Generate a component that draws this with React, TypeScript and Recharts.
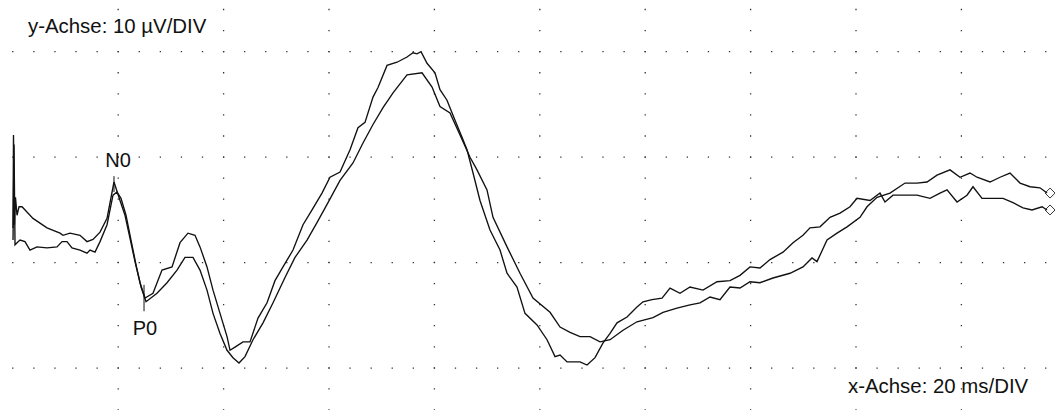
import { LineChart, Line, XAxis, YAxis, CartesianGrid, ReferenceLine, ReferenceDot } from "recharts";

// trace 1 (higher at the start, higher main peak)
const traceOneMs = [
  0.04, 0.13, 0.32, 0.51, 0.8, 1.18, 1.75, 3.83, 6.49, 8.96,
  9.53, 10.85, 12.75, 14.08, 15.22, 16.55, 17.88, 19.2, 20.34, 21.29,
  22.24, 23.19, 24.14, 25.09, 26.6, 28.31, 30.21, 31.73, 33.24, 34.57,
  35.52, 36.85, 37.99, 39.32, 40.65, 41.22, 42.16, 43.68, 45.01, 46.53,
  48.24, 49.75, 51.27, 53.17, 55.07, 56.78, 58.67, 60.19, 62.09, 63.99,
  65.5, 66.83, 68.35, 69.3, 71.01, 72.91, 74.8, 75.94, 76.7, 77.46,
  78.6, 80.11, 81.06, 82.39, 83.91, 85.24, 86.19, 87.33, 88.65, 90.55,
  92.45, 93.78, 95.67, 97.19, 99.47, 101.37, 102.89, 103.84, 105.17, 107.63,
  108.96, 110.48, 112.0, 113.33, 114.65, 116.55, 118.44, 119.58, 121.29, 123.19,
  124.71, 126.6, 128.5, 130.97, 133.63, 136.09, 137.99, 139.89, 141.78, 143.68,
  146.15, 148.05, 149.94, 151.27, 153.17, 155.07, 156.97, 158.86, 160.19, 162.66,
  164.55, 165.5, 167.02, 168.92, 171.57, 174.04, 175.94, 177.27, 179.17, 181.06,
  182.2, 183.91, 185.43, 187.9, 189.79, 191.69, 193.4, 195.3, 196.25,
];
const traceOneUv = [
  3.3, 12.1, 3.6, 6.2, 4.5, 5.3, 5.3, 4.2, 3.3, 2.8,
  2.6, 2.8, 2.6, 2.0, 2.2, 2.9, 4.2, 7.65, 5.9, 4.5,
  2.3, 0.1, -1.9, -3.35, -2.9, -0.7, -0.4, 1.9, 2.8, 2.6,
  1.5, -0.4, -2.6, -4.8, -7.0, -8.3, -8.0, -7.5, -7.5, -5.25,
  -3.8, -1.7, -0.4, 1.2, 3.6, 5.0, 6.6, 8.1, 8.6, 10.7,
  12.8, 13.3, 15.7, 16.6, 18.7, 19.0, 19.5, 19.9, 19.8, 20.0,
  18.9, 18.0, 16.4, 15.4, 13.5, 11.9, 10.7, 8.5, 5.9, 3.1,
  1.2, -1.0, -2.3, -4.8, -5.9, -7.3, -8.9, -8.75, -9.4, -9.4,
  -9.7, -9.0, -7.6, -6.7, -5.7, -5.15, -4.2, -3.7, -3.5, -3.35,
  -2.4, -2.9, -2.3, -2.6, -1.8, -1.7, -1.2, -0.4, -0.5, 0.3,
  1.0, 1.9, 2.6, 3.3, 3.4, 4.3, 4.7, 5.3, 6.1, 5.9,
  6.6, 5.75, 6.4, 6.4, 6.4, 6.1, 6.6, 6.9, 5.75, 6.4,
  7.2, 6.1, 6.1, 6.1, 5.7, 5.2, 5.0, 5.3, 5.0,
];

// trace 2
const traceTwoMs = [
  0.04, 0.23, 0.42, 0.8, 1.37, 2.31, 3.26, 4.59, 6.49, 8.39,
  9.34, 10.28, 11.23, 12.75, 14.08, 14.65, 15.6, 16.55, 17.88, 19.01,
  19.77, 20.53, 21.48, 22.43, 23.38, 24.33, 25.28, 27.36, 29.26, 31.16,
  32.67, 34.19, 35.52, 36.85, 37.99, 39.32, 40.65, 41.78, 42.92, 44.06,
  45.58, 47.48, 49.38, 51.65, 53.55, 55.83, 57.72, 59.81, 62.09, 64.55,
  66.45, 68.35, 70.25, 72.15, 74.8, 77.65, 79.55, 81.06, 82.96, 84.86,
  86.76, 88.08, 89.98, 91.12, 93.78, 96.24, 98.71, 101.94, 103.84, 105.74,
  107.63, 109.53, 111.43, 113.33, 115.79, 118.44, 121.48, 123.38, 126.03, 128.5,
  130.4, 132.3, 134.19, 136.09, 137.99, 139.89, 141.78, 144.25, 147.48, 149.94,
  151.65, 152.6, 154.5, 156.4, 158.3, 160.76, 162.09, 163.99, 166.45, 169.3,
  171.57, 173.47, 175.37, 177.84, 179.74, 181.63, 182.96, 185.43, 187.33, 189.22,
  191.12, 193.02, 194.91, 196.25,
];
const traceTwoUv = [
  2.15, 11.2, 1.7, 1.9, 2.15, 2.0, 1.2, 1.5, 1.4, 1.5,
  2.0, 2.0, 1.4, 1.2, 0.9, 1.2, 1.0, 2.0, 3.6, 6.4,
  6.7, 6.1, 4.5, 2.15, -0.2, -2.3, -3.7, -2.9, -1.9, -0.7,
  0.5, 0.5, -0.7, -2.6, -4.8, -6.7, -8.3, -9.0, -9.5, -8.9,
  -7.3, -5.7, -3.8, -1.4, 0.5, 2.15, 3.8, 5.7, 7.8, 9.45,
  11.35, 13.1, 14.7, 16.1, 17.8, 18.0, 16.65, 14.8, 14.2, 12.1,
  10.0, 8.8, 6.9, 4.3, 1.5, -1.0, -3.35, -4.7, -6.1, -6.6,
  -7.0, -7.0, -7.5, -7.3, -6.4, -5.6, -5.2, -4.7, -4.3, -4.0,
  -3.8, -3.25, -3.5, -2.3, -2.4, -1.8, -1.9, -1.45, -1.0, -0.4,
  0.45, 0.1, 2.15, 2.8, 3.4, 4.3, 5.3, 6.2, 6.6, 7.55,
  7.55, 7.65, 8.3, 8.8, 8.1, 8.5, 8.1, 7.65, 8.1, 8.5,
  7.55, 7.2, 7.1, 6.6,
];

// divisions: 20 ms / 10 µV
const gridMs = [0, 20, 40, 60, 80, 100, 120, 140, 160, 180];
const gridUv = [-10, 0, 10, 20];

// N0 / P0 marks: [ms, top µV, bottom µV]
const n0Mark = [19.2, 8.2, 6.7];
const p0Mark = [24.9, -2.1, -4.6];

const traceOne = traceOneMs.map((t, i) => ({ t, v: traceOneUv[i] }));
const traceTwo = traceTwoMs.map((t, i) => ({ t, v: traceTwoUv[i] }));

const FONT = '"Liberation Sans", Arial, Helvetica, sans-serif';
const INK = "#111";

const endMarker = (last: number) => (props: any) => {
  const { cx, cy, index } = props;
  if (index !== last) return <g key={`e${index}`} />;
  const x = cx + 3;
  return (
    <path
      key="end"
      d={`M${x} ${cy - 5} L${x + 5} ${cy} L${x} ${cy + 5} L${x - 5} ${cy} Z`}
      fill="none"
      stroke="#333"
      strokeWidth={1}
    />
  );
};

export default function App() {
  return (
    <div style={{ position: "absolute", left: 0, top: 0, width: 1055, height: 410, background: "#fff" }}>
      <LineChart width={1055} height={410} margin={{ top: 0, right: 0, bottom: 0, left: 0 }}>
        <XAxis dataKey="t" type="number" domain={[-2.43, 197.76]} ticks={gridMs} allowDataOverflow hide />
        <YAxis dataKey="v" type="number" domain={[-13.96, 24.9]} ticks={gridUv} allowDataOverflow hide />
        <CartesianGrid
          horizontal
          vertical={false}
          horizontalValues={gridUv}
          stroke="#333"
          strokeWidth={1.3}
          strokeDasharray="1.3 19.78"
          strokeDashoffset={8.93}
        />
        <CartesianGrid
          horizontal={false}
          vertical
          verticalValues={gridMs.slice(1)}
          stroke="#333"
          strokeWidth={1.3}
          strokeDasharray="1.3 19.78"
          strokeDashoffset={12.23}
        />
        <Line
          data={traceTwo}
          dataKey="v"
          type="linear"
          stroke={INK}
          strokeWidth={1.35}
          dot={endMarker(traceTwo.length - 1)}
          activeDot={false}
          isAnimationActive={false}
        />
        <Line
          data={traceOne}
          dataKey="v"
          type="linear"
          stroke={INK}
          strokeWidth={1.35}
          dot={endMarker(traceOne.length - 1)}
          activeDot={false}
          isAnimationActive={false}
        />
        <ReferenceLine
          segment={[{ x: n0Mark[0], y: n0Mark[1] }, { x: n0Mark[0], y: n0Mark[2] }]}
          stroke={INK}
          strokeWidth={1}
        />
        <ReferenceLine
          segment={[{ x: p0Mark[0], y: p0Mark[1] }, { x: p0Mark[0], y: p0Mark[2] }]}
          stroke={INK}
          strokeWidth={1}
        />
        <ReferenceDot
          x={n0Mark[0]}
          y={n0Mark[1]}
          r={0}
          stroke="none"
          label={{ value: "N0", position: "top", offset: 9, dx: 4, fill: INK, fontSize: 20, fontFamily: FONT }}
        />
        <ReferenceDot
          x={p0Mark[0]}
          y={p0Mark[2]}
          r={0}
          stroke="none"
          label={{ value: "P0", position: "bottom", offset: 10, dx: 1, fill: INK, fontSize: 20, fontFamily: FONT }}
        />
      </LineChart>
      <div style={{ position: "absolute", left: 28, top: 16, fontFamily: FONT, fontSize: 20.4, lineHeight: "20px", color: INK, whiteSpace: "nowrap" }}>
        y-Achse: 10 µV/DIV
      </div>
      <div style={{ position: "absolute", left: 848, top: 376, fontFamily: FONT, fontSize: 20.4, lineHeight: "20px", color: INK, whiteSpace: "nowrap" }}>
        x-Achse: 20 ms/DIV
      </div>
    </div>
  );
}
